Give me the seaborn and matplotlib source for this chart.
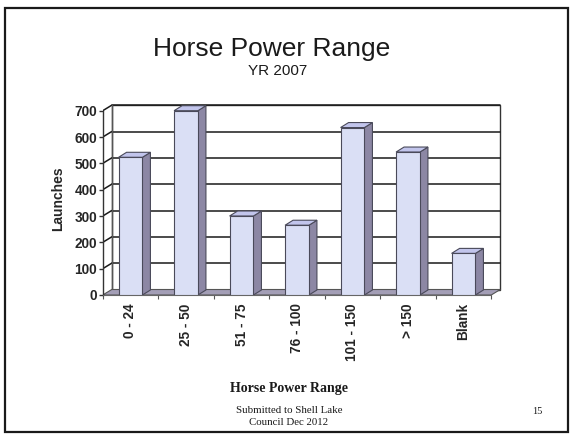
import matplotlib
matplotlib.use("Agg")
import matplotlib.pyplot as plt
from matplotlib.patches import Polygon, Rectangle
import seaborn as sns
import pandas as pd

categories = ["0 - 24", "25 - 50", "51 - 75", "76 - 100", "101 - 150", "> 150", "Blank"]
launches = [523, 700, 300, 265, 636, 543, 158]
y_ticks = [0, 100, 200, 300, 400, 500, 600, 700]

sns.set_theme(style="white")
plt.rcParams['font.family'] = ['Liberation Sans', 'DejaVu Sans']

W, H = 572, 436
fig = plt.figure(figsize=(W / 100, H / 100), dpi=100)
fig.patch.set_facecolor("white")

# axes placement (pixels)
x0_px, y0_px = 102.75, 295.0
px_per_cat = 55.5
px_per_val = 184.3 / 700.0
xlim = (-0.5, 6.8)
ylim = (0, 730)
ax = fig.add_axes([x0_px / W, (H - y0_px) / H,
                   (xlim[1] - xlim[0]) * px_per_cat / W,
                   (ylim[1] - ylim[0]) * px_per_val / H])
ax.set_facecolor("none")

dx = 9 / px_per_cat
dy = 5.5 / px_per_val
bdx = 8 / px_per_cat
bdy = 5 / px_per_val
n = len(categories)
left, right = -0.5, n - 0.5

# back wall
ax.add_patch(Rectangle((left + dx, dy), right - left, 700, facecolor="white",
                       edgecolor="#333333", lw=1.0, zorder=0.5))
# gridlines on back wall and left side wall
for v in y_ticks[1:]:
    ax.plot([left + dx, right + dx], [v + dy, v + dy], color="#1a1a1a", lw=1.1, zorder=0.6)
    ax.plot([left, left + dx], [v, v + dy], color="#1a1a1a", lw=1.1, zorder=0.6)
ax.plot([left + dx, left + dx], [dy, 700 + dy], color="#555555", lw=1.0, zorder=0.6)

# floor
ax.add_patch(Polygon([(left, 0), (right, 0), (right + dx, dy), (left + dx, dy)],
                     closed=True, facecolor="#a39eb6", edgecolor="#555555", lw=0.8,
                     zorder=0.7))

df = pd.DataFrame({"range": categories, "launches": launches})
bw = 0.43
sns.barplot(data=df, x="range", y="launches", ax=ax, width=bw, color="#dadff5",
            saturation=1, edgecolor="#4a4a5a", linewidth=0.8, zorder=3)

# 3D faces
for i, v in enumerate(launches):
    xl, xr = i - bw / 2, i + bw / 2
    side = Polygon([(xr, 0), (xr + bdx, bdy), (xr + bdx, v + bdy), (xr, v)], closed=True,
                   facecolor="#8c87a4", edgecolor="#4a4a5a", lw=0.8, zorder=2.9)
    top = Polygon([(xl, v), (xr, v), (xr + bdx, v + bdy), (xl + bdx, v + bdy)], closed=True,
                  facecolor="#c2c5ec", edgecolor="#4a4a5a", lw=0.8, zorder=2.9)
    ax.add_patch(side)
    ax.add_patch(top)

ax.set_xlim(*xlim)
ax.set_ylim(*ylim)

for s in ["top", "right"]:
    ax.spines[s].set_visible(False)
ax.spines["left"].set_bounds(0, 700)
ax.spines["left"].set_color("#333333")
ax.spines["left"].set_linewidth(1.0)
ax.spines["bottom"].set_bounds(left, right)
ax.spines["bottom"].set_color("#666666")
ax.spines["bottom"].set_linewidth(0.8)

ax.set_yticks(y_ticks)
ax.set_yticklabels([str(t) for t in y_ticks], fontsize=9.8, fontweight="bold")
ax.tick_params(axis="y", direction="out", length=3, width=1, color="#333333",
               pad=1, left=True)
ax.set_xticks(range(n))
ax.set_xticklabels(categories, rotation=90, fontsize=9.8, fontweight="bold")
ax.tick_params(axis="x", which="major", length=0, pad=6)
ax.set_xticks([i + 0.5 for i in range(-1, n)], minor=True)
ax.tick_params(axis="x", which="minor", direction="out", length=3, width=0.8,
               color="#555555", bottom=True)
ax.set_xlabel("")
ax.set_ylabel("Launches", fontsize=10, fontweight="bold", labelpad=7)

# titles and slide text
fig.text(272 / W, 1 - 56 / H, "Horse Power Range", ha="center", va="baseline",
         fontsize=19, color="#1a1a1a")
fig.text(278 / W, 1 - 75 / H, "YR 2007", ha="center", va="baseline",
         fontsize=11, color="#1a1a1a")
fig.text(289 / W, 1 - 392 / H, "Horse Power Range", ha="center", va="baseline",
         fontsize=10, fontweight="bold", family=["Liberation Serif", "DejaVu Serif"],
         color="#1a1a1a")
fig.text(289 / W, 1 - 413 / H, "Submitted to Shell Lake", ha="center", va="baseline",
         fontsize=7.8, family=["Liberation Serif", "DejaVu Serif"], color="#1a1a1a")
fig.text(289 / W, 1 - 425 / H, "Council Dec 2012", ha="center", va="baseline",
         fontsize=7.8, family=["Liberation Serif", "DejaVu Serif"], color="#1a1a1a")
fig.text(537 / W, 1 - 414 / H, "15", ha="center", va="baseline",
         fontsize=7.5, family=["Liberation Serif", "DejaVu Serif"], color="#1a1a1a")

# slide border
fig.add_artist(Rectangle((5 / W, 1 - 432 / H), 563 / W, 424 / H, transform=fig.transFigure,
                         fill=False, edgecolor="#1a1a1a", lw=1.6))

fig.savefig("out.png", dpi=100)
